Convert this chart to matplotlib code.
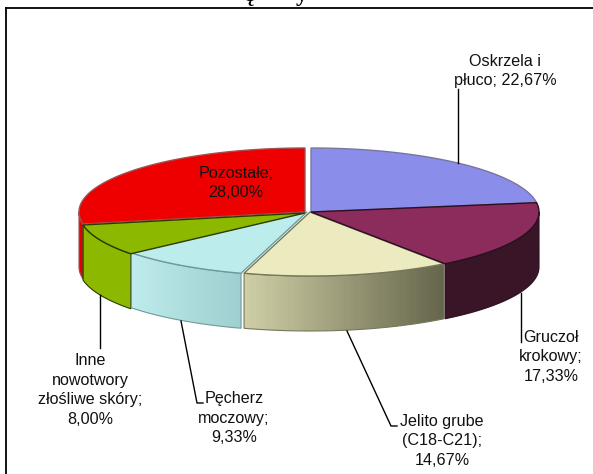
import numpy as np
import matplotlib
matplotlib.use('Agg')
import matplotlib.pyplot as plt
from matplotlib.colors import to_rgb
from matplotlib.patches import Polygon

plt.rcParams['font.family'] = ['Liberation Sans', 'DejaVu Sans']

# Data
categories = ['Oskrzela i\npłuco; ', 'Gruczoł\nkrokowy;\n', 'Jelito grube\n(C18-C21);\n',
              'Pęcherz\nmoczowy;\n', 'Inne\nnowotwory\nzłośliwe skóry;\n', 'Pozostałe;\n']
values = [22.67, 17.33, 14.67, 9.33, 8.00, 28.00]

# Styles, one entry per slice
top_colors = ['#8b8deb', '#8c2c5c', '#ecebc0', '#bcecec', '#8cb900', '#ee0000']
side_left = ['#6a6cc0', '#3a1528', '#cfcfa6', '#bfecec', '#8cb900', '#e60000']
side_right = ['#6a6cc0', '#3a1528', '#66664c', '#9fcfd0', '#8cb900', '#e60000']
edge_colors = ['#777799', '#2a1020', '#77775c', '#6f9a9a', '#2c3a00', '#a05050']
offsets = [(0, 0), (0, 0), (-1, 0), (-4, 0), (-6, 1), (-6, 0)]
radii = [228, 228, 228, 228, 226, 226]

label_pos = [(505, 71), (551, 357), (442, 441), (234, 418), (90, 390), (236, 183)]
leaders = [[(458, 89), (458, 163)],
           [(521, 293), (521, 342)],
           [(347, 331), (391, 426), (397, 426)],
           [(181, 321), (197, 403), (203, 403)],
           [(100, 295), (100, 348)]]

CX, CY = 311, 212
RY = 64
DEPTH = 55

fig = plt.figure(figsize=(5.93, 4.74), dpi=100)
ax = fig.add_axes([0, 0, 1, 1])

# slice angles, clockwise from the top
fracs = np.array(values) / sum(values)
ends = 90 - 360 * np.cumsum(fracs)
starts = np.concatenate(([90], ends[:-1]))


def arc(a0, a1, i, n=80):
    t = np.radians(np.linspace(a0, a1, n))
    off = offsets[i]
    return np.column_stack((CX + off[0] + radii[i] * np.cos(t), CY + off[1] - RY * np.sin(t)))


# side walls first, only the front half of the pie shows
for i in [5, 4, 3, 1, 2]:
    a0 = min(starts[i], 0)
    a1 = max(ends[i], -180)
    pts = arc(a0, a1, i)
    poly = np.vstack((pts, pts[::-1] + [0, DEPTH]))
    grad = np.linspace(0, 1, 64)[None, :, None]
    c0 = np.array(to_rgb(side_left[i]))
    c1 = np.array(to_rgb(side_right[i]))
    img = c0 * (1 - grad) + c1 * grad
    patch = Polygon(poly, closed=True, facecolor='none', edgecolor=edge_colors[i], lw=0.8, zorder=3)
    ax.add_patch(patch)
    im = ax.imshow(img, extent=(poly[:, 0].min(), poly[:, 0].max(), poly[:, 1].max(), poly[:, 1].min()),
                   aspect='auto', zorder=2)
    im.set_clip_path(patch)

ax.set_xlim(0, 593)
ax.set_ylim(474, 0)
ax.axis('off')

# top faces, dark edges go on last so they stay visible
for i in [0, 2, 1, 5, 3, 4]:
    pts = arc(starts[i], ends[i], i)
    poly = np.vstack(([CX + offsets[i][0], CY + offsets[i][1]], pts))
    ax.add_patch(Polygon(poly, closed=True, facecolor=top_colors[i], edgecolor=edge_colors[i],
                         lw=1.0, zorder=4))

# leader lines
for line in leaders:
    xy = np.array(line)
    ax.plot(xy[:, 0], xy[:, 1], color='black', lw=1.0, zorder=5)

# labels
for cat, val, (x, y) in zip(categories, values, label_pos):
    txt = cat + f'{val:.2f}'.replace('.', ',') + '%'
    ax.text(x, y, txt, ha='center', va='center', fontsize=11.6, color='#111111',
            linespacing=1.39, zorder=6)

# frame, cut off at the picture edge like the original
ax.plot([6, 6], [474, 7.5], color='black', lw=1.3, zorder=7, solid_capstyle='projecting')
ax.plot([6, 593], [7.5, 7.5], color='black', lw=1.3, zorder=7)

# title is cut off above the frame, only descenders remain
ax.text(248, 1, 'ę', family='Liberation Serif', fontweight='bold', fontsize=17, ha='center', va='baseline')
ax.text(302, 1, 'y', family='Liberation Serif', fontweight='bold', fontsize=17, ha='center', va='baseline')

fig.savefig('out.png', dpi=100)
